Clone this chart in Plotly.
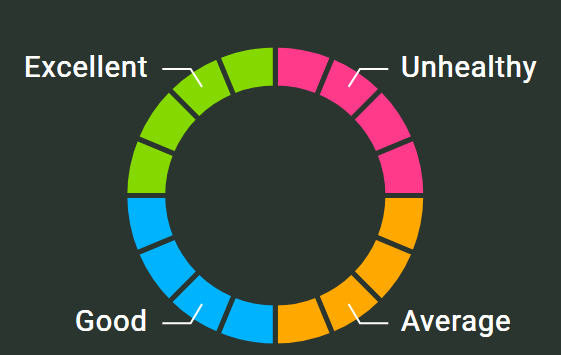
import math
import plotly.graph_objects as go

# ---- data ----
categories = ["Unhealthy", "Average", "Good", "Excellent"]
segments_per_category = [4, 4, 4, 4]
segment_values = [1, 1, 1, 1, 1, 1, 1, 1, 1, 1, 1, 1, 1, 1, 1, 1]
category_colors = ["#FF3A8A", "#FFA800", "#00B3FF", "#86D900"]

BG = "#2B352F"
W, H = 561, 355
CX, CY, R = 275.3, 195.5, 150.5  # pie centre / radius in pixels

labels, colors = [], []
for cat, n, col in zip(categories, segments_per_category, category_colors):
    for i in range(n):
        labels.append(f"{cat} {i + 1}")
        colors.append(col)

fig = go.Figure(go.Pie(
    labels=labels,
    values=segment_values,
    marker=dict(colors=colors, line=dict(color=BG, width=5)),
    hole=0.715,
    sort=False,
    direction="clockwise",
    rotation=0,
    textinfo="none",
    hoverinfo="label",
    showlegend=False,
    domain=dict(x=[(CX - R) / W, (CX + R) / W],
                y=[(H - CY - R) / H, (H - CY + R) / H]),
))


def px(x, y):
    return x / W, 1 - y / H


def polar(angle_deg, r):
    a = math.radians(angle_deg)
    return CX + r * math.sin(a), CY - r * math.cos(a)


# label config: (text, angle of pointer tip from 12 o'clock clockwise, side, line y)
label_specs = [("Unhealthy", 34, 1, 69), ("Average", 146, 1, 323.3),
               ("Good", 214, -1, 323.3), ("Excellent", 326, -1, 69)]

shapes, annotations = [], []
for text, ang, side, ly in label_specs:
    tx, ty = polar(ang, 131)
    kx = CX + side * 84.7
    ex = CX + side * 113
    p1, p2, p3 = px(tx, ty), px(kx, ly), px(ex, ly)
    shapes.append(dict(type="path", xref="paper", yref="paper",
                       path=f"M {p1[0]},{p1[1]} L {p2[0]},{p2[1]} L {p3[0]},{p3[1]}",
                       line=dict(color="white", width=2)))
    lx = CX + (124 if side > 0 else -125)
    a = px(lx, ly - 2)
    annotations.append(dict(
        x=a[0], y=a[1], xref="paper", yref="paper",
        text=f"<span style='letter-spacing:0.9px'>{text}</span>",
        showarrow=False, xanchor="left" if side > 0 else "right", yanchor="middle",
        font=dict(family="Roboto", size=29, color="white",
                  shadow="0.2px 0 0 #ffffff, -0.2px 0 0 #ffffff"),
    ))

fig.update_layout(
    width=W, height=H,
    margin=dict(l=0, r=0, t=0, b=0),
    paper_bgcolor=BG, plot_bgcolor=BG,
    shapes=shapes, annotations=annotations,
)

fig.write_html("out.html")
